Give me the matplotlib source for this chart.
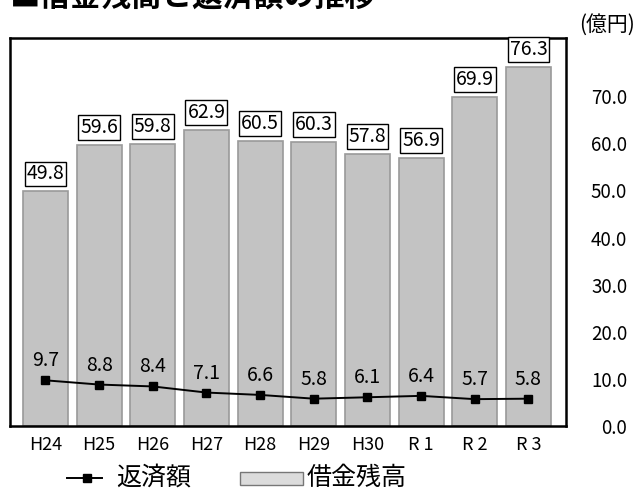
import matplotlib
matplotlib.use("Agg")
import matplotlib.pyplot as plt
from matplotlib.lines import Line2D
from matplotlib.patches import Rectangle

plt.rcParams['font.family'] = ['Noto Sans CJK JP', 'DejaVu Sans']

categories = ["H24", "H25", "H26", "H27", "H28", "H29", "H30", "R 1", "R 2", "R 3"]
balance = [49.8, 59.6, 59.8, 62.9, 60.5, 60.3, 57.8, 56.9, 69.9, 76.3]   # 借金残高
repay = [9.7, 8.8, 8.4, 7.1, 6.6, 5.8, 6.1, 6.4, 5.7, 5.8]               # 返済額
yticks = [0, 10, 20, 30, 40, 50, 60, 70]

W, H = 637, 496
fig = plt.figure(figsize=(W / 100, H / 100), dpi=100)
ax = fig.add_axes([10 / W, 1 - 426 / H, 556 / W, 388 / H])

x = list(range(len(categories)))
ax.bar(x, balance, width=0.84, color='#c3c3c3', edgecolor='#9a9a9a', linewidth=1.2, zorder=1)
ax.plot(x, repay, color='black', lw=1.4, marker='s', markersize=6, zorder=3)

for xi, v in zip(x, balance):
    ax.annotate(f"{v:.1f}", (xi, v), xytext=(0, 5), textcoords='offset points',
                ha='center', va='bottom', fontsize=14,
                bbox=dict(boxstyle='square,pad=0.1', fc='white', ec='black', lw=1))
for xi, v in zip(x, repay):
    ax.annotate(f"{v:.1f}", (xi, v), xytext=(0, 14), textcoords='offset points',
                ha='center', va='center', fontsize=14)

ax.set_xlim(-0.66, 9.70)
ax.set_ylim(0, 388 / 4.71)
ax.set_xticks(x)
ax.set_xticklabels(categories, fontsize=13)
ax.tick_params(axis='x', length=0, pad=7)
ax.yaxis.tick_right()
ax.set_yticks(yticks)
ax.set_yticklabels([f"{t:.1f}" for t in yticks], fontsize=13.5)
ax.tick_params(axis='y', length=0, pad=44)
for lab in ax.get_yticklabels():
    lab.set_horizontalalignment('right')
for s in ax.spines.values():
    s.set_linewidth(1.8)
    s.set_color('black')

# title (partially cut at top)
fig.text(10 / W, 1 - 5 / H, "■借金残高と返済額の推移", fontsize=22, fontweight='bold',
         ha='left', va='baseline')
fig.text(635 / W, 1 - 25 / H, "(億円)", fontsize=15, ha='right', va='center')

# legend
ly = 1 - 478 / H
fig.add_artist(Line2D([67 / W, 102 / W], [ly, ly], color='black', lw=1.4, transform=fig.transFigure))
fig.add_artist(Line2D([87 / W], [ly], color='black', marker='s', markersize=6, transform=fig.transFigure))
fig.text(116 / W, ly, "返済額", fontsize=18, ha='left', va='center')
fig.add_artist(Rectangle((240 / W, 1 - 485 / H), 63 / W, 13 / H, facecolor='#dcdcdc',
                         edgecolor='#777777', lw=1, transform=fig.transFigure))
fig.text(307 / W, ly, "借金残高", fontsize=18, ha='left', va='center')

fig.savefig("out.png", dpi=100)
